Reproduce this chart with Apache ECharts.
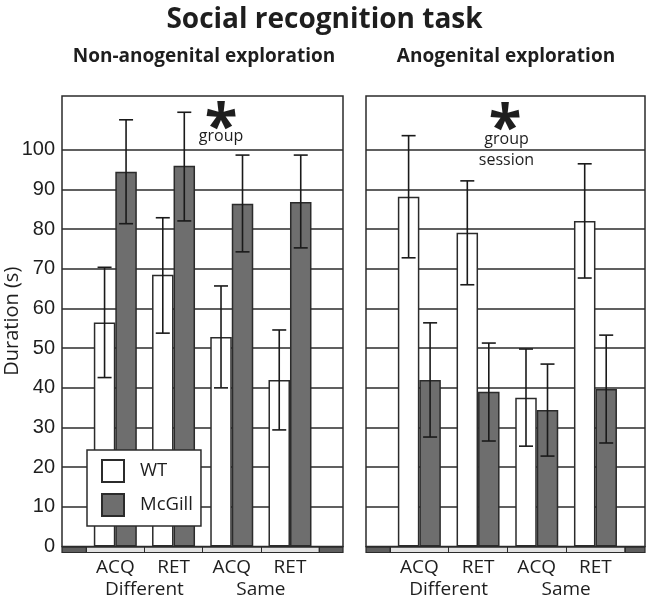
<!DOCTYPE html>
<html>
<head>
<meta charset="utf-8">
<script src="https://cdn.jsdelivr.net/npm/echarts@6/dist/echarts.min.js"></script>
<style>
  html, body { margin: 0; padding: 0; background: #ffffff; }
  #chart { width: 649px; height: 602px; }
</style>
</head>
<body>
<div id="chart"></div>
<script>
// ---------- data ----------
const categories = ['ACQ', 'RET', 'ACQ', 'RET'];
const sessionGroups = ['Different', 'Same'];
const yTickMax = 100;
const yAxisTop = 113.6;

// Non-anogenital exploration
const wtNonAno = [56.5, 68.5, 52.8, 42.0];
const wtNonAnoLow = [42.6, 53.8, 40.0, 29.4];
const wtNonAnoHigh = [70.4, 82.9, 65.7, 54.6];
const mcNonAno = [94.5, 96.0, 86.4, 86.9];
const mcNonAnoLow = [81.4, 82.1, 74.3, 75.3];
const mcNonAnoHigh = [107.6, 109.5, 98.7, 98.7];

// Anogenital exploration
const wtAno = [88.2, 79.1, 37.5, 82.1];
const wtAnoLow = [72.8, 66.0, 25.3, 67.7];
const wtAnoHigh = [103.6, 92.2, 49.8, 96.5];
const mcAno = [42.0, 39.0, 34.4, 39.7];
const mcAnoLow = [27.6, 26.6, 22.8, 26.1];
const mcAnoHigh = [56.4, 51.3, 46.0, 53.3];

// ---------- styling / layout ----------
const TXT = '#1e1e1e';
const LINE = '#2b2b2b';
const GRAY = '#6e6e6e';
const BAR_W = 21.5;
const CAP = 14;
const TOP = 96;
const ZERO_Y = 546.5;
const PLOT_H = ZERO_Y - TOP;
const BAND_H = 6;
const FONT = '"Open Sans", "Noto Sans", sans-serif';

const panels = [
  { frameL: 62, frameW: 281, catL: 86.2, catW: 232.9, showY: true,
    wt: wtNonAno, wtLo: wtNonAnoLow, wtHi: wtNonAnoHigh,
    mc: mcNonAno, mcLo: mcNonAnoLow, mcHi: mcNonAnoHigh },
  { frameL: 366, frameW: 279, catL: 390, catW: 234.8, showY: false,
    wt: wtAno, wtLo: wtAnoLow, wtHi: wtAnoHigh,
    mc: mcAno, mcLo: mcAnoLow, mcHi: mcAnoHigh }
];

function errRender(sign) {
  return function (params, api) {
    const x = api.value(0);
    const pLo = api.coord([x, api.value(1)]);
    const pHi = api.coord([x, api.value(2)]);
    const cx = pLo[0] + sign * BAR_W / 2;
    const st = { stroke: '#1a1a1a', lineWidth: 1.6 };
    return {
      type: 'group',
      children: [
        { type: 'line', shape: { x1: cx, y1: pHi[1], x2: cx, y2: pLo[1] }, style: st },
        { type: 'line', shape: { x1: cx - CAP / 2, y1: pHi[1], x2: cx + CAP / 2, y2: pHi[1] }, style: st },
        { type: 'line', shape: { x1: cx - CAP / 2, y1: pLo[1], x2: cx + CAP / 2, y2: pLo[1] }, style: st }
      ]
    };
  };
}

const grid = [], xAxis = [], yAxis = [], series = [];
// split line colours: ticks 0..100 dark, beyond transparent
const splitColors = [];
for (let v = 0; v <= 130; v += 10) splitColors.push(v <= yTickMax ? LINE : 'rgba(0,0,0,0)');

panels.forEach(function (p, pi) {
  const gBase = grid.length;
  const xBase = xAxis.length;
  const yBase = yAxis.length;
  // frame + gridlines + y labels
  grid.push({ left: p.frameL, top: TOP, width: p.frameW, height: PLOT_H, show: true,
    backgroundColor: 'transparent', borderColor: LINE, borderWidth: 1.5, outerBoundsMode: 'none' });
  // data grid
  grid.push({ left: p.catL, top: TOP, width: p.catW, height: PLOT_H, show: false, outerBoundsMode: 'none' });
  // dark band
  grid.push({ left: p.frameL, top: ZERO_Y, width: p.frameW, height: BAND_H, show: true,
    backgroundColor: '#5e5e5e', borderColor: LINE, borderWidth: 1.2, outerBoundsMode: 'none' });
  // light category band
  grid.push({ left: p.catL, top: ZERO_Y, width: p.catW, height: BAND_H, show: true,
    backgroundColor: '#e2e2e2', borderColor: LINE, borderWidth: 1, outerBoundsMode: 'none' });

  xAxis.push({ gridIndex: gBase, type: 'value', show: false });
  xAxis.push({ gridIndex: gBase + 1, type: 'category', data: categories, position: 'bottom',
    axisLine: { show: false }, axisTick: { show: false }, splitLine: { show: false },
    axisLabel: { color: TXT, fontSize: 19, fontFamily: FONT, margin: 12 } });
  xAxis.push({ gridIndex: gBase + 1, type: 'category', data: sessionGroups, position: 'bottom', offset: 22,
    axisLine: { show: false }, axisTick: { show: false }, splitLine: { show: false },
    axisLabel: { color: TXT, fontSize: 19, fontFamily: FONT, margin: 12 } });
  xAxis.push({ gridIndex: gBase + 2, type: 'value', show: false });
  xAxis.push({ gridIndex: gBase + 3, type: 'category', data: categories,
    axisLine: { show: false }, axisTick: { show: false }, axisLabel: { show: false },
    splitLine: { show: true, lineStyle: { color: LINE, width: 1 } } });

  yAxis.push({ gridIndex: gBase, type: 'value', min: 0, max: yAxisTop, interval: 10,
    axisLine: { show: false }, axisTick: { show: false },
    name: p.showY ? 'Duration (s)' : '', nameLocation: 'middle', nameGap: 40, nameMoveOverlap: false,
    nameTextStyle: { color: TXT, fontSize: 20, fontFamily: FONT },
    axisLabel: { show: p.showY, color: TXT, fontSize: 20, margin: 7,
      fontFamily: '"Liberation Sans", Arial, sans-serif',
      formatter: function (v) { return v <= yTickMax ? String(v) : ''; } },
    splitLine: { show: true, lineStyle: { color: splitColors, width: 1.5 } } });
  yAxis.push({ gridIndex: gBase + 1, type: 'value', min: 0, max: yAxisTop, show: false, splitLine: { show: false } });
  yAxis.push({ gridIndex: gBase + 2, type: 'value', show: false, splitLine: { show: false } });
  yAxis.push({ gridIndex: gBase + 3, type: 'value', show: false, splitLine: { show: false } });

  const xi = xBase + 1, yi = yBase + 1;
  series.push({ name: 'WT', type: 'bar', xAxisIndex: xi, yAxisIndex: yi, data: p.wt,
    barWidth: BAR_W, barGap: '0%', z: 2, silent: true,
    itemStyle: { color: '#ffffff', borderColor: LINE, borderWidth: 1.5 } });
  series.push({ name: 'McGill', type: 'bar', xAxisIndex: xi, yAxisIndex: yi, data: p.mc,
    barWidth: BAR_W, barGap: '0%', z: 2, silent: true,
    itemStyle: { color: GRAY, borderColor: LINE, borderWidth: 1.5 } });
  series.push({ name: 'WT err', type: 'custom', xAxisIndex: xi, yAxisIndex: yi, z: 3, silent: true,
    renderItem: errRender(-1), encode: { x: 0, y: [1, 2] },
    data: categories.map(function (c, i) { return [i, p.wtLo[i], p.wtHi[i]]; }) });
  series.push({ name: 'McGill err', type: 'custom', xAxisIndex: xi, yAxisIndex: yi, z: 3, silent: true,
    renderItem: errRender(1), encode: { x: 0, y: [1, 2] },
    data: categories.map(function (c, i) { return [i, p.mcLo[i], p.mcHi[i]]; }) });
});

const chart = echarts.init(document.getElementById('chart'), null, { renderer: 'canvas' });
chart.setOption({
  backgroundColor: '#ffffff',
  animation: false,
  title: { text: 'Social recognition task', left: 'center', top: 1,
    textStyle: { color: TXT, fontSize: 28, fontWeight: 'bold', fontFamily: FONT } },
  legend: {
    data: ['WT', 'McGill'], orient: 'vertical', left: 87, top: 450,
    selectedMode: false, icon: 'rect', itemWidth: 22, itemHeight: 22, itemGap: 10,
    padding: [9, 8, 9, 14], backgroundColor: '#ffffff', borderColor: LINE, borderWidth: 1.5,
    textStyle: { color: TXT, fontSize: 18.5, fontFamily: FONT, padding: [0, 0, 0, 11] }, z: 10
  },
  grid: grid, xAxis: xAxis, yAxis: yAxis, series: series,
  graphic: [
    { type: 'text', x: 204, y: 57, style: { text: 'Non-anogenital exploration', textAlign: 'center', textVerticalAlign: 'middle',
      fill: TXT, fontSize: 19, fontWeight: 'bold', fontFamily: FONT } },
    { type: 'text', x: 506, y: 57, style: { text: 'Anogenital exploration', textAlign: 'center', textVerticalAlign: 'middle',
      fill: TXT, fontSize: 19, fontWeight: 'bold', fontFamily: FONT } },
    { type: 'text', x: 221, y: 130, z: 5, style: { text: '*', textAlign: 'center', textVerticalAlign: 'middle',
      fill: TXT, fontSize: 60, fontWeight: 'bold', fontFamily: FONT } },
    { type: 'text', x: 221, y: 136, z: 5, style: { text: 'group', textAlign: 'center', textVerticalAlign: 'middle',
      fill: TXT, fontSize: 16, fontFamily: FONT } },
    { type: 'text', x: 505, y: 131, z: 5, style: { text: '*', textAlign: 'center', textVerticalAlign: 'middle',
      fill: TXT, fontSize: 60, fontWeight: 'bold', fontFamily: FONT } },
    { type: 'text', x: 506.5, y: 139, z: 5, style: { text: 'group', textAlign: 'center', textVerticalAlign: 'middle',
      fill: TXT, fontSize: 16, fontFamily: FONT } },
    { type: 'text', x: 506.5, y: 160, z: 5, style: { text: 'session', textAlign: 'center', textVerticalAlign: 'middle',
      fill: TXT, fontSize: 16, fontFamily: FONT } }
  ]
});
</script>
</body>
</html>
